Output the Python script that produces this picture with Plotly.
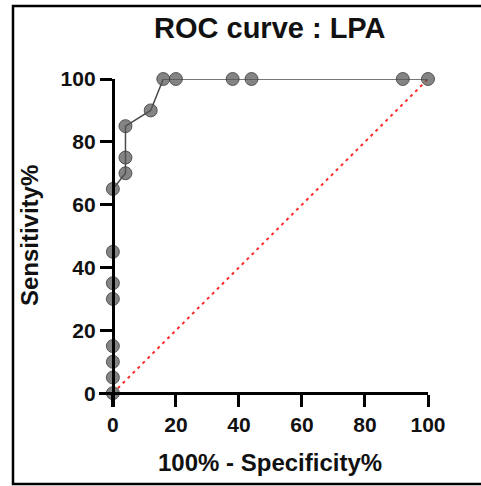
import plotly.graph_objects as go

# ROC data (100% - Specificity%, Sensitivity%)
fpr = [0, 0, 0, 0, 0, 0, 0, 0, 4, 4, 4, 12, 16, 20, 38, 44, 92, 100]
tpr = [0, 5, 10, 15, 30, 35, 45, 65, 70, 75, 85, 90, 100, 100, 100, 100, 100, 100]
ref_x = [0, 100]
ref_y = [0, 100]
ticks = [0, 20, 40, 60, 80, 100]

title = "ROC curve : LPA"
xtitle = "100% - Specificity%"
ytitle = "Sensitivity%"

FONT = "Liberation Sans, Arial, sans-serif"

fig = go.Figure()
fig.add_trace(go.Scatter(
    x=ref_x, y=ref_y, mode="lines",
    line=dict(color="#ff2a2a", width=2, dash="3px,4px"),
    hoverinfo="skip", cliponaxis=False,
))
fig.add_trace(go.Scatter(
    x=fpr, y=tpr, mode="lines+markers",
    line=dict(color="#4a4a4a", width=1.5),
    marker=dict(size=13, color="rgba(85,85,85,0.72)",
                line=dict(color="rgba(60,60,60,0.8)", width=1)),
    cliponaxis=False,
))

L, R, T, B = 99, 53, 79, 79
pw = 481 - L - R
ph = 486 - T - B

def px_x(px):
    return (px - L) / pw

def px_y(py):
    return (486 - B - py) / ph

rng = [-4.4, 100]
pos = 4.4 / 104.4

axis_common = dict(
    range=rng, showgrid=False, zeroline=False,
    showline=True, linecolor="black", linewidth=3,
    ticks="outside", ticklen=12, tickwidth=2.5, tickcolor="black",
    tickvals=ticks, ticktext=["<b>%d</b>" % t for t in ticks],
    tickfont=dict(family=FONT, size=21, color="#111"),
    anchor="free", fixedrange=True,
)

fig.update_layout(
    width=481, height=486,
    margin=dict(l=L, r=R, t=T, b=B),
    paper_bgcolor="white", plot_bgcolor="white",
    showlegend=False,
    xaxis=dict(**axis_common, position=pos),
    yaxis=dict(**axis_common, position=pos),
    annotations=[
        dict(text="<b>%s</b>" % title, x=50, xref="x", y=px_y(28), yref="paper",
             xanchor="center", yanchor="middle", showarrow=False,
             font=dict(family=FONT, size=29, color="#111")),
        dict(text="<b>%s</b>" % xtitle, x=50, xref="x", y=px_y(462), yref="paper",
             xanchor="center", yanchor="middle", showarrow=False,
             font=dict(family=FONT, size=24, color="#111")),
        dict(text="<b>%s</b>" % ytitle, x=px_x(29), xref="paper", y=50, yref="y",
             xanchor="center", yanchor="middle", showarrow=False, textangle=-90,
             font=dict(family=FONT, size=24, color="#111")),
    ],
    shapes=[
        dict(type="rect", xref="paper", yref="paper",
             x0=px_x(13), x1=px_x(600), y0=px_y(484), y1=px_y(6),
             line=dict(color="black", width=2.5), fillcolor="rgba(0,0,0,0)",
             layer="below"),
    ],
)

fig.write_html("out.html")
